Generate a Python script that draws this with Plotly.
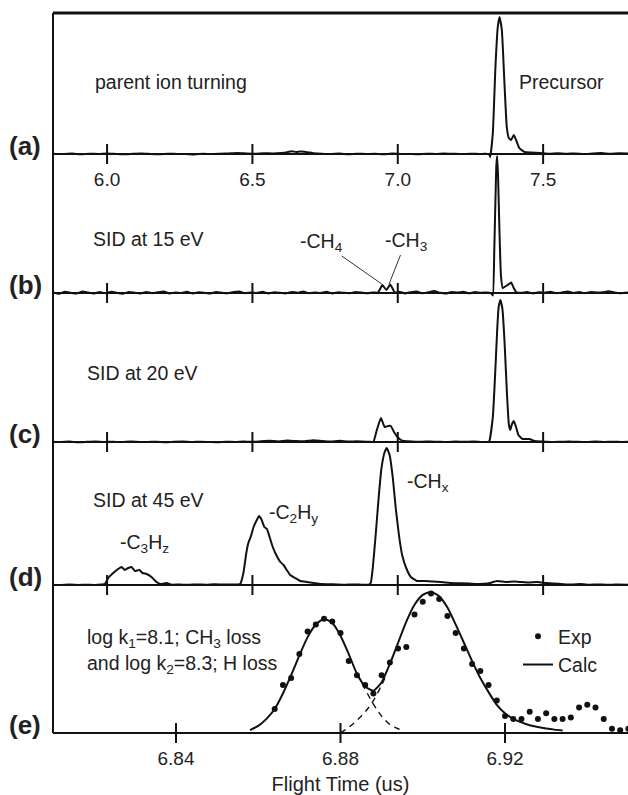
import plotly.graph_objects as go

W, H = 628, 795
FONT = "Liberation Sans, Arial, sans-serif"
INK = "#111111"

# ---------------- data ----------------
TOP_TICKS = [6.0, 6.5, 7.0, 7.5]
TOP_TICK_TEXT = ["6.0", "6.5", "7.0", "7.5"]
E_TICKS = [6.84, 6.88, 6.92]
E_TICK_TEXT = ["6.84", "6.88", "6.92"]

# (a) parent ion turning
a_time = [5.814, 5.85, 5.88, 5.91, 5.94, 5.97, 6.00, 6.03, 6.06, 6.09, 6.12, 6.15, 6.18, 6.21,
          6.24, 6.27, 6.30, 6.33, 6.36, 6.39, 6.42, 6.45, 6.48, 6.51, 6.54, 6.57, 6.60,
          6.62, 6.635, 6.65, 6.665, 6.68, 6.695, 6.71,
          6.74, 6.77, 6.80, 6.83, 6.86, 6.89, 6.92, 6.95, 6.98, 7.01, 7.04, 7.07, 7.10, 7.13,
          7.16, 7.19, 7.22, 7.25, 7.28, 7.30, 7.314,
          7.318, 7.327, 7.336, 7.344, 7.350, 7.358, 7.367, 7.375, 7.382, 7.390, 7.399, 7.407,
          7.418, 7.436, 7.459,
          7.49, 7.52, 7.55, 7.58, 7.61, 7.64, 7.67, 7.70, 7.73, 7.76, 7.797]
a_signal = [0.3, 0.0, 0.4, -0.2, 0.3, 0.0, 0.5, 0.1, -0.3, 0.2, 0.4, 0.0, -0.2, 0.3,
            0.1, 0.0, -0.4, 0.2, 0.0, 0.3, 0.6, 0.9, 0.5, 0.3, 0.8, 0.5, 1.0,
            1.8, 2.8, 2.0, 2.6, 2.2, 1.4, 0.8,
            0.3, 0.0, 0.4, -0.2, 0.3, 0.0, 0.2, -0.3, 0.4, 0.1, 0.0, -0.2, 0.3, 0.0,
            0.5, 0.2, -0.1, 0.3, 0.0, 0.2, 0.0,
            -3.0, 21, 87, 127, 137, 124, 71, 27, 16, 14, 19, 14,
            6, 2, 1.5,
            1.0, 0.3, 0.8, 0.2, 0.6, 0.0, 0.5, 0.9, 0.3, 0.7, 0.5]

# (b) SID at 15 eV
b_time = [5.814, 5.835, 5.855, 5.875, 5.895, 5.915, 5.935, 5.955, 5.975, 5.995, 6.015, 6.035,
          6.055, 6.075, 6.095, 6.115, 6.135, 6.155, 6.175, 6.195, 6.215, 6.235, 6.255, 6.275,
          6.295, 6.315, 6.335, 6.355, 6.375, 6.395, 6.415, 6.435, 6.455, 6.475, 6.495, 6.515,
          6.535, 6.555, 6.575, 6.595, 6.615, 6.635, 6.655, 6.675, 6.695, 6.715, 6.735, 6.755,
          6.775, 6.795, 6.815, 6.835, 6.855, 6.875, 6.895, 6.915,
          6.932, 6.947, 6.961, 6.974, 6.990,
          7.005, 7.025, 7.045, 7.065, 7.085, 7.105, 7.125, 7.145, 7.165, 7.185, 7.205, 7.225,
          7.245, 7.265, 7.285, 7.305, 7.320,
          7.327, 7.332, 7.336, 7.339, 7.342, 7.345, 7.350, 7.355, 7.361, 7.367, 7.378, 7.390,
          7.399, 7.407,
          7.425, 7.445, 7.465, 7.485, 7.505, 7.525, 7.545, 7.565, 7.585, 7.605, 7.625, 7.645,
          7.665, 7.685, 7.705, 7.725, 7.745, 7.765, 7.797]
b_signal = [0.5, -0.8, 1.2, 0.2, -0.6, 1.5, 0.4, -0.5, 1.0, -0.3, 1.3, 0.1,
            -0.7, 0.9, 0.3, -0.4, 1.1, -0.2, 0.7, 1.4, -0.5, 0.6, 0.0, 1.2,
            -0.6, 0.8, 0.3, -0.4, 1.0, 0.2, -0.3, 0.9, 1.5, -0.2, 0.6, 0.1,
            1.3, -0.5, 0.7, 0.2, -0.4, 1.1, 0.3, 1.6, -0.3, 0.5, 0.0, 1.2,
            -0.6, 0.8, 0.2, -0.2, 1.0, 0.4, -0.3, 0.6,
            0.5, 8.0, 3.0, 8.5, 0.5,
            1.2, -0.4, 0.8, 1.5, -0.2, 0.7, 2.0, 0.3, -0.5, 1.1, 0.4, 1.3,
            -0.3, 0.9, 0.2, 0.6, 0.0,
            -2.5, 43, 93, 127, 137, 117, 60, 17, 5, 6, 8, 10.5,
            5, 1,
            0.3, 1.0, -0.4, 0.8, 0.2, 1.2, -0.3, 0.6, 1.4, 0.0, 0.9, -0.2,
            1.1, 0.4, 0.7, 1.8, 0.5, -0.3, 0.6]

# (c) SID at 20 eV
c_time = [5.814, 5.84, 5.87, 5.90, 5.93, 5.96, 5.99, 6.02, 6.05, 6.08, 6.11, 6.14, 6.17, 6.20,
          6.23, 6.26, 6.29, 6.32, 6.35, 6.38, 6.41, 6.44, 6.47, 6.50, 6.53, 6.56, 6.59, 6.62,
          6.65, 6.68, 6.71, 6.74, 6.77, 6.80, 6.83, 6.86, 6.89, 6.905,
          6.916, 6.928, 6.942, 6.955, 6.967, 6.976, 6.987, 6.999, 7.011, 7.022,
          7.05, 7.08, 7.11, 7.14, 7.17, 7.20, 7.23, 7.26, 7.29, 7.31,
          7.315, 7.327, 7.335, 7.342, 7.347, 7.353, 7.360, 7.367, 7.375, 7.382, 7.387, 7.393,
          7.399, 7.407, 7.415, 7.430, 7.453, 7.470,
          7.50, 7.53, 7.56, 7.59, 7.62, 7.65, 7.68, 7.71, 7.74, 7.77, 7.797]
c_signal = [0.3, 0.0, 0.4, -0.2, 0.2, 0.5, 0.0, 0.3, -0.1, 0.4, 0.1, 0.0, 0.3, -0.2,
            0.2, 0.4, 0.0, 0.3, 0.1, -0.2, 0.3, 0.0, 0.4, 0.2, 0.8, 1.2, 0.6, 1.5,
            0.9, 0.7, 1.8, 1.0, 0.5, 1.2, 0.4, 0.8, 0.3, 0.2,
            0.0, 12, 24, 15, 16, 16, 10, 5, 2, 1,
            0.5, 0.2, 0.6, 0.3, 0.0, 0.4, 0.2, 0.5, 0.1, 0.3,
            1, 25, 68, 112, 135, 142, 133, 102, 52, 18, 12, 18,
            21, 15, 7, 3, 3, 1,
            0.4, 0.0, 0.3, 0.6, 0.2, 0.0, 0.4, 0.1, 0.3, 0.0, 0.2]

# (d) SID at 45 eV
d_time = [5.814, 5.84, 5.87, 5.90, 5.93, 5.96, 5.98,
          5.992, 6.004, 6.021, 6.038, 6.050, 6.061, 6.073, 6.084, 6.096, 6.111, 6.122, 6.136,
          6.153, 6.170, 6.184, 6.205, 6.222,
          6.25, 6.28, 6.31, 6.34, 6.37, 6.40, 6.43, 6.45,
          6.458, 6.469, 6.479, 6.486, 6.494, 6.504, 6.515, 6.523, 6.532, 6.541, 6.550, 6.559,
          6.570, 6.582, 6.596, 6.607, 6.618, 6.630, 6.647, 6.665, 6.687, 6.711, 6.734, 6.76,
          6.791,
          6.82, 6.85, 6.88, 6.90,
          6.907, 6.914, 6.924, 6.935, 6.944, 6.955, 6.962, 6.972, 6.983, 6.993, 7.004, 7.015,
          7.029, 7.045, 7.066, 7.093, 7.12, 7.148, 7.190, 7.245, 7.28, 7.31, 7.342, 7.37,
          7.40, 7.424, 7.45, 7.480, 7.51, 7.535,
          7.57, 7.60, 7.63, 7.66, 7.69, 7.72, 7.75, 7.797]
d_signal = [0.3, 0.0, 0.4, 0.1, 0.3, 0.0, 0.5,
            1, 7, 12, 16, 18, 15, 17, 18, 14, 15, 12, 11,
            8, 3, 1, 2, 0.3,
            0.5, 0.2, 0.6, 0.3, 0.8, 0.4, 0.6, 0.5,
            1, 12, 32, 42, 48, 58, 65, 69, 65, 58, 56, 48,
            38, 30, 23, 20, 15, 10, 7, 4, 3, 2, 1, 0.8,
            0.5,
            0.3, 0.6, 0.2, 0.4,
            2, 17, 50, 90, 117, 133, 137, 130, 107, 77, 50, 30,
            17, 8, 4, 4, 3.5, 3, 2, 1.5, 1, 1.5, 4, 3,
            3.5, 3, 2.5, 3, 2, 1.5,
            0.8, 0.4, 0.9, 0.3, 0.6, 0.2, 0.5, 0.3]

# (e) experiment vs. calculation (normalised intensity)
e_exp_time = [6.864, 6.866, 6.868, 6.870, 6.872, 6.874, 6.876, 6.878, 6.880, 6.882, 6.884,
              6.886, 6.888, 6.890, 6.892, 6.894, 6.896, 6.898, 6.900, 6.902, 6.904, 6.906,
              6.908, 6.910, 6.912, 6.914, 6.916, 6.918, 6.920, 6.922, 6.924, 6.926, 6.928,
              6.930, 6.932, 6.934, 6.936, 6.938, 6.940, 6.942, 6.944, 6.946, 6.948, 6.950]
e_exp = [0.17, 0.34, 0.39, 0.56, 0.72, 0.77, 0.81, 0.79, 0.71, 0.51, 0.41,
         0.34, 0.28, 0.41, 0.50, 0.60, 0.61, 0.84, 0.93, 0.99, 0.95, 0.83,
         0.71, 0.60, 0.49, 0.44, 0.34, 0.23, 0.12, 0.10, 0.10, 0.15, 0.10,
         0.14, 0.10, 0.10, 0.11, 0.18, 0.20, 0.18, 0.10, 0.03, 0.02, 0.03]
e_calc_time = [6.858, 6.860, 6.862, 6.864, 6.866, 6.868, 6.870, 6.872, 6.874, 6.876, 6.878,
               6.880, 6.882, 6.884, 6.886, 6.888, 6.890, 6.892, 6.894, 6.896, 6.898, 6.900,
               6.902, 6.904, 6.906, 6.908, 6.910, 6.912, 6.914, 6.916, 6.918, 6.920, 6.922,
               6.924, 6.926, 6.928, 6.930, 6.932, 6.934]
e_calc = [0.02, 0.05, 0.10, 0.17, 0.28, 0.41, 0.55, 0.68, 0.77, 0.81, 0.78,
          0.69, 0.56, 0.42, 0.33, 0.30, 0.36, 0.49, 0.64, 0.79, 0.91, 0.98,
          1.00, 0.97, 0.89, 0.77, 0.64, 0.51, 0.39, 0.29, 0.20, 0.14, 0.10,
          0.075, 0.055, 0.042, 0.032, 0.024, 0.018]
e_ch3_time = [6.884, 6.886, 6.888, 6.890, 6.892, 6.894, 6.8955]
e_ch3 = [0.42, 0.31, 0.205, 0.12, 0.06, 0.03, 0.02]
e_h_time = [6.880, 6.882, 6.884, 6.886, 6.888, 6.890, 6.891]
e_h = [0.0, 0.04, 0.09, 0.15, 0.23, 0.34, 0.40]

for xs, ys in [(a_time, a_signal), (b_time, b_signal), (c_time, c_signal), (d_time, d_signal),
               (e_exp_time, e_exp), (e_calc_time, e_calc), (e_ch3_time, e_ch3), (e_h_time, e_h)]:
    assert len(xs) == len(ys), (len(xs), len(ys))

# ---------------- layout geometry (pixels) ----------------
X_LEFT = 53          # left frame
TOP_FRAME = 13
TOP_RANGE = [5.814, 7.792]
E_RANGE = [6.8101, 6.9499]

def fx(px):
    return px / W

def fy(py):
    return 1 - py / H

# baseline, domain top, domain bottom, px per unit
panels = [
    dict(key="a", base=154, top=13, bot=166, scale=1.0, t=a_time, s=a_signal),
    dict(key="b", base=293, top=150, bot=305, scale=1.0, t=b_time, s=b_signal),
    dict(key="c", base=442, top=290, bot=454, scale=1.0, t=c_time, s=c_signal),
    dict(key="d", base=585, top=440, bot=597, scale=1.0, t=d_time, s=d_signal),
    dict(key="e", base=733, top=580, bot=745, scale=141.0, t=None, s=None),
]

fig = go.Figure()
layout = dict(
    width=W, height=H, margin=dict(l=0, r=0, t=0, b=0),
    paper_bgcolor="white", plot_bgcolor="rgba(0,0,0,0)",
    font=dict(family=FONT, size=19, color="#222"),
    showlegend=True,
)
shapes = []
for i, p in enumerate(panels, start=1):
    xa = "x" if i == 1 else f"x{i}"
    ya = "y" if i == 1 else f"y{i}"
    xk = "xaxis" if i == 1 else f"xaxis{i}"
    yk = "yaxis" if i == 1 else f"yaxis{i}"
    rng = [-(p["bot"] - p["base"]) / p["scale"], (p["base"] - p["top"]) / p["scale"]]
    layout[yk] = dict(domain=[fy(p["bot"]), fy(p["top"])], range=rng, anchor=xa,
                      showticklabels=False, showgrid=False, showline=False, ticks="",
                      zeroline=True, zerolinecolor=INK, zerolinewidth=2, fixedrange=True)
    is_e = p["key"] == "e"
    xdict = dict(domain=[fx(X_LEFT), 1], range=E_RANGE if is_e else TOP_RANGE, anchor=ya,
                 showgrid=False, zeroline=False, showline=False, ticks="", fixedrange=True)
    if is_e:
        xdict.update(tickvals=E_TICKS, ticktext=E_TICK_TEXT, showticklabels=True,
                     tickfont=dict(size=19, color="#222"),
                     title=dict(text="Flight Time (us)", font=dict(size=20, color="#222"),
                                standoff=13))
        ticks = E_TICKS
    elif i == 1:
        xdict.update(tickvals=TOP_TICKS, ticktext=TOP_TICK_TEXT, showticklabels=True,
                     tickfont=dict(size=19, color="#222"))
        ticks = TOP_TICKS
    else:
        xdict.update(showticklabels=False)
        ticks = TOP_TICKS
    layout[xk] = xdict
    for tv in ticks:
        shapes.append(dict(type="line", xref=xa, yref=ya, x0=tv, x1=tv,
                           ysizemode="pixel", yanchor=0, y0=-10, y1=10,
                           line=dict(color=INK, width=2)))
    if not is_e:
        fig.add_trace(go.Scatter(x=p["t"], y=p["s"], mode="lines", xaxis=xa, yaxis=ya,
                                 line=dict(color=INK, width=2, shape="spline", smoothing=0.4),
                                 showlegend=False, hoverinfo="skip"))

# panel (e) traces
fig.add_trace(go.Scatter(x=e_exp_time, y=e_exp, mode="markers", name="Exp",
                         xaxis="x5", yaxis="y5",
                         marker=dict(color=INK, size=6)))
fig.add_trace(go.Scatter(x=e_calc_time, y=e_calc, mode="lines", name="Calc",
                         xaxis="x5", yaxis="y5",
                         line=dict(color=INK, width=2, shape="spline", smoothing=0.6)))
fig.add_trace(go.Scatter(x=e_ch3_time, y=e_ch3, mode="lines", xaxis="x5", yaxis="y5",
                         line=dict(color=INK, width=1.4, dash="6px,5px", shape="spline"),
                         showlegend=False))
fig.add_trace(go.Scatter(x=e_h_time, y=e_h, mode="lines", xaxis="x5", yaxis="y5",
                         line=dict(color=INK, width=1.4, dash="6px,5px", shape="spline"),
                         showlegend=False))

# frame lines (left and top)
shapes.append(dict(type="line", xref="paper", yref="paper", x0=fx(X_LEFT), x1=fx(X_LEFT),
                   y0=fy(TOP_FRAME), y1=fy(733), line=dict(color=INK, width=2)))
shapes.append(dict(type="line", xref="paper", yref="paper", x0=fx(X_LEFT), x1=1.0,
                   y0=fy(TOP_FRAME), y1=fy(TOP_FRAME), line=dict(color=INK, width=3)))
layout["shapes"] = shapes

TXT = 19.5
ann = []
def text(s, xpx, ypx, size=TXT, xanchor="left", bold=False):
    ann.append(dict(text=f"<b>{s}</b>" if bold else s, xref="paper", yref="paper",
                    x=fx(xpx), y=fy(ypx), xanchor=xanchor, yanchor="middle",
                    showarrow=False, font=dict(size=size, color="#222", family=FONT)))

for p, lab in zip(panels, ["(a)", "(b)", "(c)", "(d)", "(e)"]):
    text(lab, 25, p["base"] - 8, size=26, xanchor="center", bold=True)

text("parent ion turning", 93, 82)
text("Precursor", 517, 82)
text("SID at 15 eV", 91, 239)
text("SID at 20 eV", 85, 373)
text("SID at 45 eV", 91, 500)
text("-C<sub>3</sub>H<sub>z</sub>", 118, 543)
text("-C<sub>2</sub>H<sub>y</sub>", 267, 513)
text("-CH<sub>x</sub>", 405, 482)
text("log k<sub>1</sub>=8.1; CH<sub>3</sub> loss", 85, 638)
text("and log k<sub>2</sub>=8.3; H loss", 85, 664)

# leader lines for the small SID 15 eV fragments
ann.append(dict(text="-CH<sub>4</sub>", xref="x2", yref="y2", x=6.945, y=9,
                ax=-60, ay=-42, showarrow=True, arrowhead=0, arrowwidth=1,
                arrowcolor="#333", standoff=0, font=dict(size=TXT, color="#222")))
ann.append(dict(text="-CH<sub>3</sub>", xref="x2", yref="y2", x=6.970, y=9,
                ax=17, ay=-43, showarrow=True, arrowhead=0, arrowwidth=1,
                arrowcolor="#333", standoff=0, font=dict(size=TXT, color="#222")))
layout["annotations"] = ann

layout["legend"] = dict(x=fx(518), y=fy(617), xanchor="left", yanchor="top",
                        bgcolor="rgba(0,0,0,0)", borderwidth=0,
                        font=dict(size=TXT, color="#222", family=FONT),
                        tracegroupgap=0, itemclick=False, itemdoubleclick=False)

fig.update_layout(**layout)
fig.write_html("out.html", config={"displayModeBar": False})
